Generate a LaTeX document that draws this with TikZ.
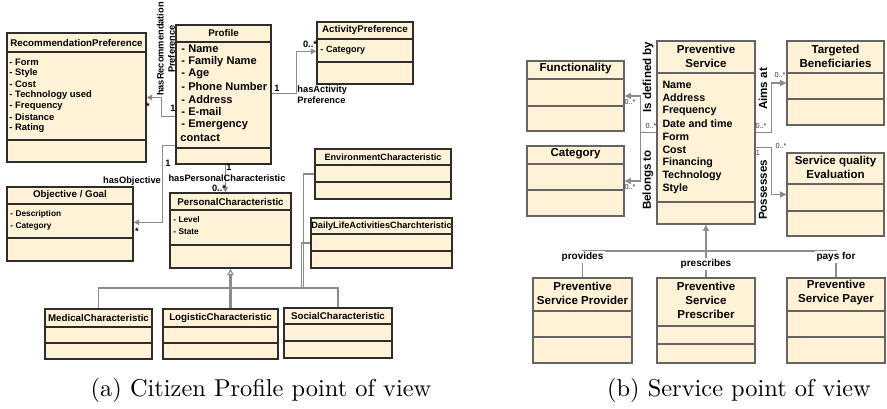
\documentclass[tikz,border=0pt]{standalone}
\usepackage{fontspec}
\newfontfamily\umlfont{Liberation Sans}
\usepackage{xcolor}
\usetikzlibrary{arrows.meta, positioning, calc, fit}

\definecolor{umlfill}{RGB}{255,242,214}
\definecolor{boxline}{RGB}{45,45,45}
\definecolor{boxlineb}{RGB}{100,100,100}
\definecolor{linkgray}{RGB}{140,140,140}

\tikzset{
  umlbox/.style={draw=boxline, fill=umlfill, line width=0.55pt, inner sep=0pt},
  umlboxb/.style={draw=boxlineb, fill=umlfill, line width=0.45pt, inner sep=0pt},
  assoc/.style={draw=linkgray, line width=0.5pt, -{Triangle[length=2.2pt,width=2.2pt]}},
  assocb/.style={draw=linkgray, line width=0.6pt, -{Triangle[length=2.6pt,width=2.4pt]}},
  genline/.style={draw=linkgray, line width=0.45pt},
  gen/.style={draw=linkgray, line width=0.9pt, -{Triangle[open,length=2.6pt,width=2.6pt,line width=0.45pt]}},
  ltitle/.style={font=\umlfont\bfseries\fontsize{4}{4.8}\selectfont, inner sep=0pt},
  lattr/.style={font=\umlfont\bfseries\fontsize{3.85}{4.6}\selectfont, inner sep=0pt, anchor=west},
  pattr/.style={font=\umlfont\bfseries\fontsize{4.55}{5.4}\selectfont, inner sep=0pt, anchor=west},
  sattr/.style={font=\umlfont\bfseries\fontsize{3.4}{4.1}\selectfont, inner sep=0pt, anchor=west},
  llabel/.style={font=\umlfont\bfseries\fontsize{3.8}{4.6}\selectfont, inner sep=0pt},
  rtitle/.style={font=\umlfont\bfseries\fontsize{4.73}{5.74}\selectfont, inner sep=0pt, align=center},
  rattr/.style={font=\umlfont\bfseries\fontsize{4.38}{5.3}\selectfont, inner sep=0pt, anchor=west},
  rlabel/.style={font=\umlfont\bfseries\fontsize{4.75}{5.7}\selectfont, inner sep=0pt, rotate=90},
  rmult/.style={font=\umlfont\fontsize{3}{3.6}\selectfont, inner sep=0pt, text=black!80},
  blabel/.style={font=\umlfont\bfseries\fontsize{4.1}{5}\selectfont, inner sep=0.6pt, fill=white}
}

\newcommand{\umlclass}[8][umlbox]{%
  \node[#1, fit={(#3,#4) (#5,#6)}] (#2) {};
  \draw[#1, fill=none] (#3,#7) -- (#5,#7);
  \draw[#1, fill=none] (#3,#8) -- (#5,#8);
}

\begin{document}
\begin{tikzpicture}[x=0.41pt, y=-0.41pt]
  \useasboundingbox (0,0) rectangle (887,408);

  \umlclass{rec}{7}{33}{146}{162}{52}{140}
  \umlclass{prof}{176}{25}{271}{164}{42}{148}
  \umlclass{act}{317}{22}{413}{84}{39}{62}
  \umlclass{obj}{7}{187}{133}{261}{204}{238}
  \umlclass{pers}{170}{193}{291}{268}{210}{245}
  \umlclass{env}{315}{149}{451}{199}{165}{182}
  \umlclass{daily}{311}{218}{452}{268}{234}{251}
  \umlclass{med}{45}{309}{152}{359}{327}{343}
  \umlclass{log}{163}{309}{278}{359}{327}{343}
  \umlclass{soc}{284}{308}{392}{358}{324}{341}

  \node[ltitle] (rec-t) at (76.5,43) {RecommendationPreference};
  \node[ltitle] (prof-t) at (223.5,33) {Profile};
  \node[ltitle] (act-t) at (365,30) {ActivityPreference};
  \node[ltitle] (obj-t) at (70,195) {Objective / Goal};
  \node[ltitle] (pers-t) at (230.5,201.5) {PersonalCharacteristic};
  \node[ltitle, font=\umlfont\bfseries\fontsize{3.75}{4.5}\selectfont] (env-t) at (383,157) {EnvironmentCharacteristic};
  \node[ltitle, font=\umlfont\bfseries\fontsize{3.75}{4.5}\selectfont] (daily-t) at (381.5,226) {DailyLifeActivitiesCharchteristic};
  \node[ltitle] (med-t) at (98.5,318) {MedicalCharacteristic};
  \node[ltitle] (log-t) at (220.5,318) {LogisticCharacteristic};
  \node[ltitle] (soc-t) at (338,316) {SocialCharacteristic};

  \foreach \a [count=\i] in {Form, Style, Cost, Technology used, Frequency, Distance, Rating}
    \node[lattr] (rec-\i) at (9,{51+11*\i}) {- \a};
  \foreach \a [count=\i] in {Name, Family Name, Age, Phone Number, Address, E-mail, Emergency}
    \node[pattr] (prof-\i) at (181,{36.4+12.6*\i}) {- \a};
  \node[pattr] (prof-8) at (180,138) {contact};
  \node[sattr, font=\umlfont\bfseries\fontsize{3.7}{4.4}\selectfont] (act-1) at (320,50) {- Category};
  \node[sattr] (obj-1) at (10,214) {- Description};
  \node[sattr] (obj-2) at (10,226) {- Category};
  \node[sattr] (pers-1) at (173,220) {- Level};
  \node[sattr] (pers-2) at (173,232) {- State};

  \draw[assoc] ($(prof.north west)+(0,92)$) -- ++(-14,0) |- (rec.east);
  \draw[assoc] ($(prof.north east)+(0,69)$) -- ++(25,0) |- ($(act.north west)+(0,30)$);
  \draw[assoc] ($(prof.north west)+(0,121)$) -- ++(-13,0) |- ($(obj.north east)+(0,36)$);
  \draw[assoc] ($(prof.south west)+(50,0)$) -- ($(pers.north west)+(56,0)$);

  \node[llabel, rotate=90, align=center] (l-rec) at (166,49) {hasRecommendation\\Preference};
  \node[llabel] (m-rec1) at (173,108) {1};
  \node[llabel] (m-rec2) at (148,106) {*};
  \node[llabel, anchor=west, align=left] (l-act) at (297,95) {hasActivity\\Preference};
  \node[llabel] (m-act1) at (277,88) {1};
  \node[llabel] (m-act2) at (310,44) {0..*};
  \node[llabel] (l-obj) at (132,181) {hasObjective};
  \node[llabel] (m-obj1) at (168,163) {1};
  \node[llabel] (m-obj2) at (137,231) {*};
  \node[llabel] (l-pers) at (227,178) {hasPersonalCharacteristic};
  \node[llabel] (m-pers1) at (229,167) {1};
  \node[llabel] (m-pers2) at (219,188) {0..*};

  \coordinate (lbus) at (230.5,288);
  \draw[genline] (med.north) |- (lbus);
  \draw[genline] (soc.north) |- (lbus);
  \draw[genline] (env.west) -| ($(lbus)+(73,0)$) -- (lbus);
  \draw[genline] (daily.west) -| ($(lbus)+(71,0)$);
  \draw[genline, line width=0.9pt] (log.north -| lbus) -- (lbus);
  \draw[gen] (lbus) -- (pers.south);

  \umlclass[umlboxb]{func}{527}{61}{624}{131}{79}{106}
  \umlclass[umlboxb]{cat}{527}{146}{624}{216}{164}{190}
  \umlclass[umlboxb]{ps}{657}{41}{755}{224}{73}{202}
  \umlclass[umlboxb]{tb}{787}{41}{884}{125}{73}{99}
  \umlclass[umlboxb]{sqe}{787}{153}{884}{236}{184}{211}
  \umlclass[umlboxb]{prov}{533}{278}{632}{363}{311}{337}
  \umlclass[umlboxb]{presc}{657}{278}{755}{363}{326}{344}
  \umlclass[umlboxb]{pay}{787}{278}{885}{363}{311}{337}

  \node[rtitle] (func-t) at (575.5,69) {Functionality};
  \node[rtitle] (cat-t) at (575.5,154) {Category};
  \node[rtitle] (ps-t) at (706,56) {Preventive\\Service};
  \node[rtitle] (tb-t) at (835.5,56) {Targeted\\Beneficiaries};
  \node[rtitle] (sqe-t) at (835.5,167) {Service quality\\Evaluation};
  \node[rtitle] (prov-t) at (582.5,293) {Preventive\\Service Provider};
  \node[rtitle] (presc-t) at (706,300) {Preventive\\Service\\Prescriber};
  \node[rtitle] (pay-t) at (836,293) {Preventive\\Service Payer};

  \foreach \a [count=\i] in {Name, Address, Frequency, Date and time, Form, Cost, Financing, Technology, Style}
    \node[rattr] (ps-\i) at (662,{72+13*\i}) {\a};

  \draw[assocb] (ps.west) -- ++(-16,0) |- (func.east);
  \draw[assocb] (ps.west) -- ++(-16,0) |- (cat.east);
  \draw[assocb] (ps.east) -- ++(16,0) |- (tb.west);
  \draw[assocb] ($(ps.north east)+(0,107)$) -- ++(16,0) |- (sqe.west);

  \node[rlabel] (l-func) at (648,77) {Is defined by};
  \node[rlabel] (l-cat) at (648,180) {Belongs to};
  \node[rlabel] (l-tb) at (763,89) {Aims at};
  \node[rlabel] (l-sqe) at (763,190) {Possesses};
  \node[rmult] (m-func) at (630,102) {0..*};
  \node[rmult] (m-ps1) at (651,126) {0..*};
  \node[rmult] (m-cat) at (630,187) {0..*};
  \node[rmult] (m-ps2) at (761,126) {0..*};
  \node[rmult] (m-tb) at (780,75) {0..*};
  \node[rmult] (m-sqe) at (781,146) {0..*};
  \node[rmult] (m-ps3) at (758,153) {1};

  \coordinate (rbus) at (706,251);
  \draw[genline, line width=0.6pt] (prov.north) |- (rbus);
  \draw[genline, line width=0.6pt] (pay.north) |- (rbus);
  \draw[genline, line width=0.6pt] (presc.north) -- (rbus);
  \draw[assocb] (rbus) -- (ps.south);
  \node[blabel] (l-prov) at (582.5,257) {provides};
  \node[blabel] (l-presc) at (706,264) {prescribes};
  \node[blabel] (l-pay) at (836,257) {pays for};

  \node[anchor=base] (cap-a) at (261,396) {(a) Citizen Profile point of view};
  \node[anchor=base] (cap-b) at (739,396) {(b) Service point of view};
\end{tikzpicture}
\end{document}
